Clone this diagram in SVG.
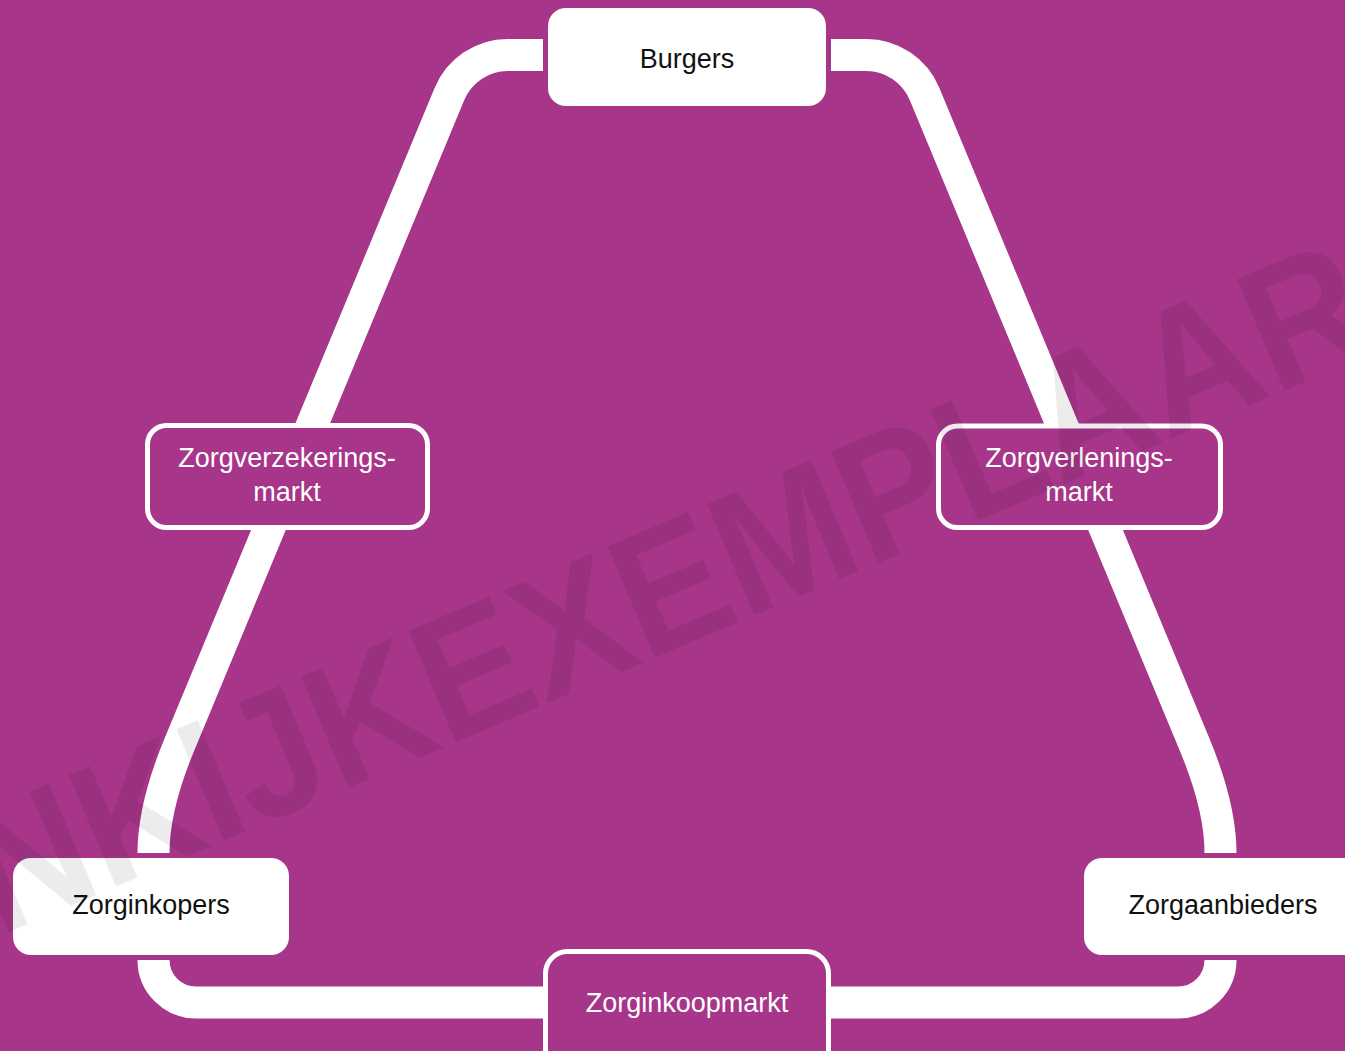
<svg xmlns="http://www.w3.org/2000/svg" width="1345" height="1051" viewBox="0 0 1345 1051">
  <style>
    .conn { fill: none; stroke: #ffffff; stroke-width: 32; stroke-linecap: butt; stroke-linejoin: round; }
    .solid { fill: #ffffff; }
    .outline { fill: #a7368a; stroke: #ffffff; stroke-width: 5; }
    .lbl { font-family: "Liberation Sans", Arial, sans-serif; font-size: 27px; text-anchor: middle; }
    .dark { fill: #111111; }
    .light { fill: #ffffff; }
    .wm { font-family: "Liberation Sans", Arial, sans-serif; font-weight: bold; font-size: 176px; fill: #000000; fill-opacity: 0.075; }
  </style>
  <rect x="0" y="0" width="1345" height="1051" fill="#a7368a"/>

  <g id="connectors">
    <path class="conn" d="M 543 55 H 507.7 A 63 63 0 0 0 449.5 93.9 L 179.2 745 Q 153.5 807 153.5 853"/>
    <path class="conn" d="M 831 55 H 866.3 A 63 63 0 0 1 924.5 93.9 L 1194.8 745 Q 1220.5 807 1220.5 853"/>
    <path class="conn" d="M 153.5 960 A 42.5 42.5 0 0 0 196 1002.5 H 1178 A 42.5 42.5 0 0 0 1220.5 960"/>
  </g>

  <g id="burgers">
    <rect class="solid" x="548" y="8" width="278" height="98" rx="18"/>
    <text class="lbl dark" x="687" y="68">Burgers</text>
  </g>

  <g id="zorgverzekeringsmarkt">
    <rect class="outline" x="147.5" y="425.5" width="280" height="102" rx="19"/>
    <text class="lbl light" x="287" y="467">Zorgverzekerings-</text>
    <text class="lbl light" x="287" y="500.5">markt</text>
  </g>

  <g id="zorgverleningsmarkt">
    <rect class="outline" x="938.5" y="426" width="282" height="101.5" rx="19"/>
    <text class="lbl light" x="1079" y="467">Zorgverlenings-</text>
    <text class="lbl light" x="1079" y="500.5">markt</text>
  </g>

  <g id="zorginkopers">
    <rect class="solid" x="13" y="858" width="276" height="97" rx="18"/>
    <text class="lbl dark" x="151" y="914">Zorginkopers</text>
  </g>

  <g id="zorgaanbieders">
    <rect class="solid" x="1084" y="858" width="278" height="97" rx="18"/>
    <text class="lbl dark" x="1223" y="914">Zorgaanbieders</text>
  </g>

  <g id="zorginkoopmarkt">
    <rect class="outline" x="545.5" y="951.5" width="283" height="130" rx="22"/>
    <text class="lbl light" x="687" y="1012">Zorginkoopmarkt</text>
  </g>

  <g id="watermark">
    <text class="wm" x="0" y="0" transform="translate(-43 954) rotate(-23)" textLength="1548" lengthAdjust="spacingAndGlyphs">INKIJKEXEMPLAAR</text>
  </g>
</svg>
